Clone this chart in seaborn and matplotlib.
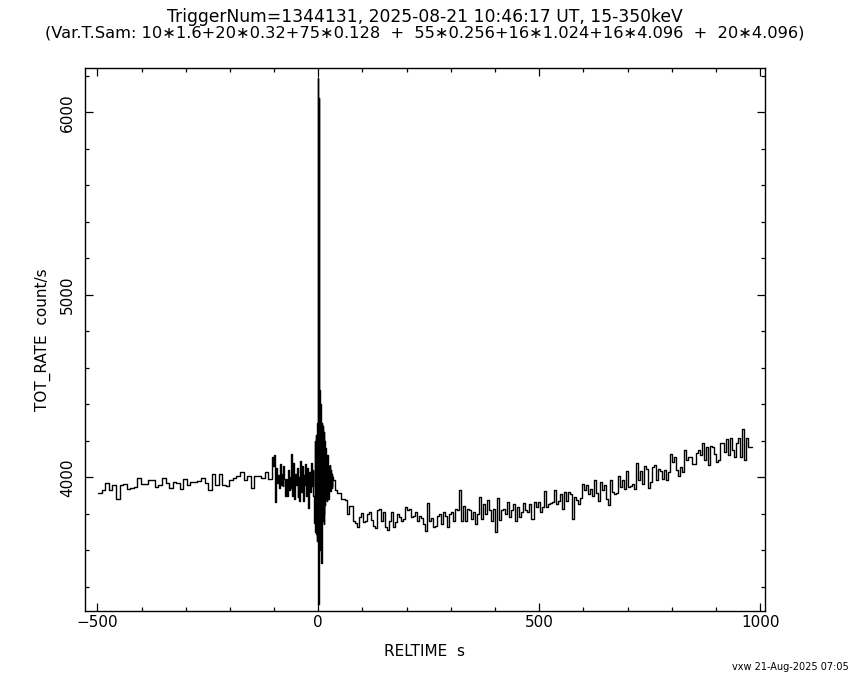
import numpy as np
import pandas as pd
import matplotlib.pyplot as plt
import seaborn as sns
from matplotlib.ticker import MultipleLocator

# Light curve: each segment is (start, end) in s plus the
# rates (count/s) of its equal-width bins
pre_span = (-498, -105)
pre_rate = [3915, 3928, 3971, 3928, 3959, 3882, 3959, 3965, 3937, 3941, 3948, 3998,
            3965, 3965, 3983, 3983, 3948, 3956, 3998, 3971, 3943, 3976, 3971, 3934,
            3992, 3959, 3976, 3972, 3978, 3998, 3969, 3932, 4020, 3960, 4020, 3960,
            3950, 3983, 3998, 4009, 4028, 3987, 4005, 3943, 4005, 4005, 3998, 4031, 3991]

noise_span = (-105, -9)
noise_rate = [4110, 4060, 4120, 3990, 3862, 4050, 3970, 4010, 3940, 4070, 3960, 4020,
              3950, 4060, 3990, 3900, 3990, 3895, 4040, 3930, 4000, 3940, 4130, 3900,
              4080, 3880, 4020, 3960, 4050, 3890, 4000, 3870, 4090, 3920, 4060, 3870,
              4010, 3960, 4070, 3900, 4050, 3830, 4030, 3920, 4080, 3950, 4040, 3900]

rise_span = (-9, -1)
rise_rate = [3750, 4200, 3700, 4230, 3690, 4250, 3650, 4300]

peak_span = (-1, 3)
peak_rate = [3330, 6188, 3304, 6077, 3450, 6060, 3600, 4480]

decay_span = (3, 33)
decay_rate = [3600, 4400, 3550, 4350, 3530, 4300, 3760, 4280, 3800, 4250, 3746, 4200,
              3850, 4160, 3880, 4100, 3870, 4120, 3900, 4080, 3880, 4060, 3930, 4067,
              3927, 4040, 3950, 4020, 3940, 4000]

post_span = (33, 982)
post_rate = [3983, 3928, 3915, 3915, 3882, 3882, 3876, 3799, 3845, 3845, 3762, 3748,
             3726, 3781, 3805,
             3753, 3762, 3799, 3808, 3766, 3735, 3720, 3818, 3827, 3762, 3808, 3729,
             3711, 3762, 3808, 3729, 3753, 3799, 3781, 3762, 3772, 3836, 3818, 3827,
             3781, 3785, 3808, 3762, 3790, 3777, 3744, 3703, 3858, 3762, 3775, 3729,
             3735, 3785, 3799, 3744, 3808, 3785, 3726, 3799, 3808, 3762, 3827, 3818,
             3928, 3762, 3845, 3762, 3827, 3818, 3772, 3808, 3744, 3799, 3891, 3772,
             3855, 3799, 3877, 3818, 3762, 3827, 3698, 3888, 3766, 3818, 3827, 3799,
             3864, 3781, 3818, 3855, 3762, 3836, 3781, 3808, 3858, 3818, 3808, 3855,
             3772, 3864, 3836, 3864, 3808, 3836, 3924, 3836, 3855, 3860,
             3863, 3931, 3854, 3872, 3909, 3826, 3918, 3872, 3918, 3909, 3771, 3891,
             3876, 3854, 3887, 3965, 3928, 3955, 3909, 3937, 3900, 3983, 3913, 3872,
             3974, 3928, 3955, 3882, 3850, 3983, 3918, 3909, 3913, 4005, 3946, 3983,
             3937, 4035, 3946, 3950, 3965, 3937, 4079, 3983, 4035, 3965, 4060, 4047,
             3942, 3974, 4057, 4066, 3983, 4047, 4035, 3992, 4042, 3983, 4029, 4127,
             4084, 4112, 4038, 4005, 4057, 4029, 4149, 4093, 4112, 4112, 4075, 4075,
             4134, 4149, 4121, 4189, 4097, 4167, 4066, 4173, 4167, 4130, 4084, 4093,
             4186, 4189, 4140, 4208, 4121, 4213, 4149, 4112, 4186, 4213, 4112, 4263,
             4097, 4213, 4164, 4164]

segments = [(pre_span, pre_rate), (noise_span, noise_rate), (rise_span, rise_rate),
            (peak_span, peak_rate), (decay_span, decay_rate), (post_span, post_rate)]

t_all, r_all = [], []
for (t0, t1), vals in segments:
    edges = np.linspace(t0, t1, len(vals) + 1)
    t_all.extend(edges[:-1])
    r_all.extend(vals)
# close the last bin
t_all.append(post_span[1])
r_all.append(post_rate[-1])

lc = pd.DataFrame({'RELTIME': t_all, 'TOT_RATE': r_all})

sns.set_style('ticks')
plt.rcParams['font.family'] = ['DejaVu Sans']
plt.rcParams['text.color'] = 'black'
plt.rcParams['axes.labelcolor'] = 'black'
plt.rcParams['xtick.color'] = 'black'
plt.rcParams['ytick.color'] = 'black'

fig = plt.figure(figsize=(8.5, 6.8), dpi=100)
ax = fig.add_axes([85 / 850, 1 - 611 / 680, 680 / 850, 543 / 680])

sns.lineplot(data=lc, x='RELTIME', y='TOT_RATE', ax=ax, color='black', lw=1.0,
             drawstyle='steps-post', estimator=None, sort=False)
ax.axvline(0, color='black', lw=0.7, ls=(0, (5, 4)))

ax.set_xlim(-528, 1011)
ax.set_ylim(3267, 6243)
ax.xaxis.set_major_locator(MultipleLocator(500))
ax.xaxis.set_minor_locator(MultipleLocator(100))
ax.yaxis.set_major_locator(MultipleLocator(1000))
ax.yaxis.set_minor_locator(MultipleLocator(200))
ax.tick_params(which='both', direction='in', top=True, right=True, width=0.9,
               color='black', labelsize=11)
ax.tick_params(which='major', length=6)
ax.tick_params(which='minor', length=3)
ax.tick_params(axis='x', pad=3)
ax.tick_params(axis='y', pad=7)
for lab in ax.get_yticklabels():
    lab.set_rotation(90)
    lab.set_va('center')
for s in ax.spines.values():
    s.set_linewidth(1.0)
    s.set_color('black')

ax.set_xlabel('RELTIME  s', fontsize=11, labelpad=10)
ax.set_ylabel('TOT_RATE  count/s', fontsize=11, labelpad=7)

fig.text(0.5, 0.975, 'TriggerNum=1344131, 2025-08-21 10:46:17 UT, 15-350keV',
         ha='center', va='center', fontsize=12.3)
fig.text(0.5, 0.951,
         '(Var.T.Sam: 10\u22171.6+20\u22170.32+75\u22170.128  +  55\u22170.256+16\u22171.024'
         '+16\u22174.096  +  20\u22174.096)',
         ha='center', va='center', fontsize=11.7)
fig.text(0.998, 0.019, 'vxw 21-Aug-2025 07:05', ha='right', va='center', fontsize=7)

fig.savefig('out.png', dpi=100)
